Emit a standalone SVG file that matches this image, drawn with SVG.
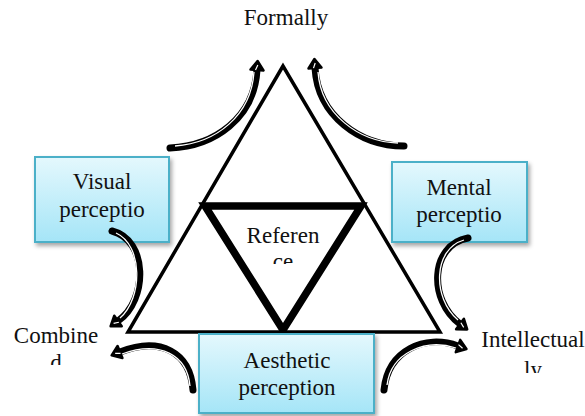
<svg xmlns="http://www.w3.org/2000/svg" width="585" height="416" viewBox="0 0 585 416">
<style>
text{font-family:"Liberation Serif","Times New Roman",Times,serif;font-size:23px;fill:#111;text-anchor:middle}
.box{fill:url(#g);stroke:#4bb0c8;stroke-width:2;filter:url(#sh)}
.arr{fill:none;stroke:#000;stroke-width:7;stroke-linecap:round}
.arrin{fill:none;stroke:#fff;stroke-width:1.3}
</style>
<defs>
<linearGradient id="g" x1="0" y1="0" x2="0" y2="1">
<stop offset="0" stop-color="#e4f8fd"/>
<stop offset="1" stop-color="#a5e5f7"/>
</linearGradient>
<filter id="sh" x="-10%" y="-10%" width="130%" height="130%">
<feDropShadow dx="2" dy="3" stdDeviation="2" flood-color="#000" flood-opacity="0.35"/>
</filter>
<marker id="ah" markerUnits="userSpaceOnUse" markerWidth="16" markerHeight="18" refX="2" refY="9" orient="auto" viewBox="0 0 16 18">
<path d="M2,2.5 L11,9 L2,15.5 Z" fill="#000" stroke="#000" stroke-width="2.5" stroke-linejoin="round"/>
<path d="M2,7.5 L7,9.5" stroke="#fff" stroke-width="1.2"/>
</marker>
<clipPath id="c1"><rect x="0" y="0" width="585" height="365"/></clipPath>
<clipPath id="c2"><rect x="0" y="0" width="585" height="264"/></clipPath>
<clipPath id="c3"><rect x="0" y="0" width="585" height="373"/></clipPath>
</defs>

<g id="triangle-outer">
<polygon points="283,66 128,332 440,332" fill="none" stroke="#000" stroke-width="3.5" stroke-linejoin="miter"/>
</g>
<g id="triangle-reference" font-family="Liberation Serif, serif">
<polygon points="205,206 361,206 283,330" fill="#fff" stroke="#000" stroke-width="7.5" stroke-linejoin="miter"/>
<text x="283" y="243">Referen</text>
<text x="283" y="269" clip-path="url(#c2)">ce</text>
</g>

<g id="visual">
<rect class="box" x="35" y="157" width="134" height="85"/>
<text x="102" y="189">Visual</text>
<text x="102" y="217">perceptio</text>
</g>
<g id="mental">
<rect class="box" x="392" y="162" width="135" height="80"/>
<text x="459" y="195">Mental</text>
<text x="459" y="222">perceptio</text>
</g>
<g id="aesthetic">
<rect class="box" x="199" y="334" width="175" height="79"/>
<text x="287" y="368">Aesthetic</text>
<text x="287" y="395">perception</text>
</g>

<g id="formally"><text x="286" y="25">Formally</text></g>
<g id="combined">
<text x="56" y="343">Combine</text>
<text x="56" y="370" clip-path="url(#c1)">d</text>
</g>
<g id="intellectually">
<text x="533" y="347">Intellectual</text>
<text x="533" y="377" clip-path="url(#c3)">ly</text>
</g>

<g id="connectors">
<path class="arr" d="M170,148 C215,146 254,118 257,70" marker-end="url(#ah)"/>
<path class="arrin" d="M175,146 C216,143 251,116 254,72"/>
<path class="arr" d="M404,146 C360,146 318,116 315,68" marker-end="url(#ah)"/>
<path class="arrin" d="M398,143 C359,142 321,114 318,72"/>
<path class="arr" d="M112,231 C148,240 148,300 118,321" marker-end="url(#ah)"/>
<path class="arrin" d="M116,233 C143,245 143,298 120,318"/>
<path class="arr" d="M193,390 C190,352 160,336 120,352" marker-end="url(#ah)"/>
<path class="arrin" d="M190,386 C187,355 160,340 122,354"/>
<path class="arr" d="M468,238 C430,245 428,300 460,324" marker-end="url(#ah)"/>
<path class="arrin" d="M464,240 C433,249 432,298 458,320"/>
<path class="arr" d="M384,390 C388,350 425,334 458,346" marker-end="url(#ah)"/>
<path class="arrin" d="M387,385 C391,353 425,338 456,348"/>
</g>
</svg>
